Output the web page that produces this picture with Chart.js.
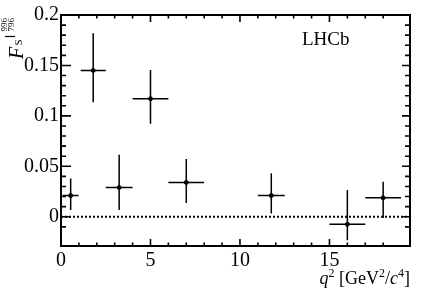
<!DOCTYPE html>
<html lang="en">
<head>
<meta charset="UTF-8">
<title>F_S vs q2</title>
<script src="https://cdn.jsdelivr.net/npm/chart.js"></script>
<style>
    body {
        margin: 0;
        padding: 0;
        background: #fff;
    }
    #chart {
        display: block;
    }
</style>
</head>
<body>
<canvas id="chart" width="432" height="294"></canvas>
<script>
const q2Center = [0.54, 1.8, 3.25, 5.0, 7.0, 11.75, 16.0, 18.0];
const q2Low = [0.1, 1.1, 2.5, 4.0, 6.0, 11.0, 15.0, 17.0];
const q2High = [0.98, 2.5, 4.0, 6.0, 8.0, 12.5, 17.0, 19.0];
const fsValue = [0.021, 0.145, 0.029, 0.117, 0.034, 0.021, -0.0075, 0.0188];
const fsLow = [0.0066, 0.1135, 0.0066, 0.0923, 0.0136, 0.0033, -0.0232, -0.0012];
const fsHigh = [0.038, 0.182, 0.0615, 0.1455, 0.0572, 0.043, 0.0264, 0.0346];

const xMajor = [0, 5, 10, 15];
const yMajor = [0, 0.05, 0.1, 0.15, 0.2];

const serif = '"Liberation Serif", "DejaVu Serif", serif';

function near(a, b) {
    return Math.abs(a - b) < 1e-6;
}

// draw runs of text (with different fonts / raise) ending at xRight
function drawRuns(ctx, runs, xRight, baseline) {
    let total = 0;
    runs.forEach(r => {
        ctx.font = r.font;
        r.w = ctx.measureText(r.text).width;
        total += r.w;
    });
    let x = xRight - total;
    runs.forEach(r => {
        ctx.font = r.font;
        ctx.fillText(r.text, x, baseline - (r.raise || 0));
        x += r.w;
    });
}

const lhcbPlugin = {
    id: 'lhcbDecor',
    beforeDatasetsDraw(chart) {
        const ctx = chart.ctx;
        const xs = chart.scales.x, ys = chart.scales.y;
        const area = chart.chartArea;
        ctx.save();
        // dotted line at zero
        ctx.strokeStyle = '#000';
        ctx.lineWidth = 2;
        ctx.setLineDash([2, 2]);
        ctx.beginPath();
        ctx.moveTo(area.left, ys.getPixelForValue(0));
        ctx.lineTo(area.right, ys.getPixelForValue(0));
        ctx.stroke();
        ctx.setLineDash([]);
        // error bars
        ctx.lineWidth = 1.5;
        for (let i = 0; i < q2Center.length; i++) {
            const px = xs.getPixelForValue(q2Center[i]);
            const py = ys.getPixelForValue(fsValue[i]);
            ctx.beginPath();
            ctx.moveTo(xs.getPixelForValue(q2Low[i]), py);
            ctx.lineTo(xs.getPixelForValue(q2High[i]), py);
            ctx.moveTo(px, ys.getPixelForValue(fsLow[i]));
            ctx.lineTo(px, ys.getPixelForValue(fsHigh[i]));
            ctx.stroke();
        }
        ctx.restore();
    },
    afterDraw(chart) {
        const ctx = chart.ctx;
        const xs = chart.scales.x, ys = chart.scales.y;
        const a = chart.chartArea;
        ctx.save();
        ctx.strokeStyle = '#000';
        ctx.fillStyle = '#000';
        // frame
        ctx.lineWidth = 2;
        ctx.strokeRect(a.left, a.top, a.right - a.left, a.bottom - a.top);
        // inward ticks
        ctx.lineWidth = 1.6;
        ctx.beginPath();
        xs.ticks.forEach(t => {
            if (!near(t.value, Math.round(t.value))) return;
            const px = xs.getPixelForValue(t.value);
            const len = xMajor.some(m => near(m, t.value)) ? 7 : 3.5;
            ctx.moveTo(px, a.bottom);
            ctx.lineTo(px, a.bottom - len);
            ctx.moveTo(px, a.top);
            ctx.lineTo(px, a.top + len);
        });
        ys.ticks.forEach(t => {
            const k = t.value * 100;
            if (!near(k, Math.round(k))) return;
            const py = ys.getPixelForValue(t.value);
            const major = yMajor.some(m => near(m, t.value));
            ctx.moveTo(a.left, py);
            ctx.lineTo(a.left + (major ? 10 : 5), py);
            ctx.moveTo(a.right, py);
            ctx.lineTo(a.right - (major ? 8 : 5), py);
        });
        ctx.stroke();

        // LHCb label
        ctx.font = '19px ' + serif;
        ctx.textAlign = 'left';
        ctx.textBaseline = 'alphabetic';
        ctx.fillText('LHCb', 302, 45);

        // x title
        drawRuns(ctx, [
            { text: 'q', font: 'italic 18px ' + serif },
            { text: '2', font: '12px ' + serif, raise: 7 },
            { text: ' [GeV', font: '18px ' + serif },
            { text: '2', font: '12px ' + serif, raise: 7 },
            { text: '/', font: '18px ' + serif },
            { text: 'c', font: 'italic 18px ' + serif },
            { text: '4', font: '12px ' + serif, raise: 7 },
            { text: ']', font: '18px ' + serif }
        ], a.right, 284);

        // y title, rotated
        ctx.rotate(-Math.PI / 2);
        ctx.font = 'italic 20px ' + serif;
        ctx.fillText('F', -59, 23);
        ctx.font = '11px ' + serif;
        ctx.fillText('S', -45.5, 21.5);
        ctx.lineWidth = 1.2;
        ctx.beginPath();
        ctx.moveTo(-36.5, 5);
        ctx.lineTo(-36.5, 15);
        ctx.stroke();
        ctx.font = '9px ' + serif;
        ctx.fillText('996', -31.5, 7);
        ctx.fillText('796', -31.5, 14);
        ctx.restore();
    }
};

const points = q2Center.map((q, i) => ({ x: q, y: fsValue[i] }));

new Chart(document.getElementById('chart'), {
    type: 'scatter',
    data: {
        datasets: [{
            data: points,
            backgroundColor: '#000',
            borderColor: '#000',
            pointRadius: 2,
            pointHoverRadius: 2
        }]
    },
    options: {
        responsive: false,
        animation: false,
        devicePixelRatio: 1,
        layout: { padding: { left: 0, right: 22, top: 15, bottom: 0 } },
        plugins: {
            legend: { display: false },
            tooltip: { enabled: false }
        },
        scales: {
            x: {
                type: 'linear',
                min: 0,
                max: 19.5,
                afterFit(scale) { scale.height = 48; },
                grid: { display: false, drawTicks: false },
                border: { display: false },
                ticks: {
                    stepSize: 1,
                    autoSkip: false,
                    maxRotation: 0,
                    padding: 3,
                    color: '#000',
                    font: { family: serif, size: 20 },
                    callback: v => xMajor.some(m => near(m, v)) ? String(v) : ''
                }
            },
            y: {
                type: 'linear',
                min: -0.029,
                max: 0.2,
                afterFit(scale) { scale.width = 61; },
                grid: { display: false, drawTicks: false },
                border: { display: false },
                ticks: {
                    stepSize: 0.01,
                    autoSkip: false,
                    padding: 2,
                    color: '#000',
                    font: { family: serif, size: 20 },
                    callback: v => yMajor.some(m => near(m, v)) ? String(+v.toFixed(2)) : ''
                }
            }
        }
    },
    plugins: [lhcbPlugin]
});
</script>
</body>
</html>
